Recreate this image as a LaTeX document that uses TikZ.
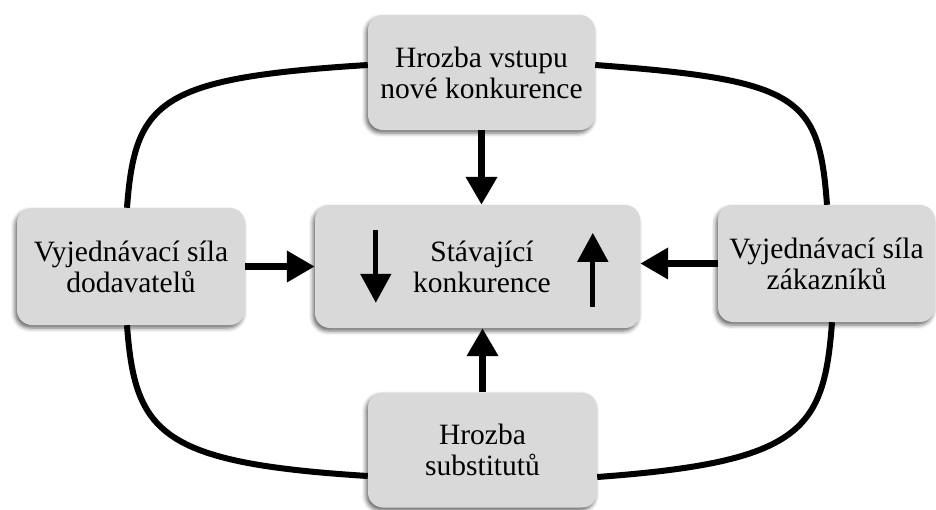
\documentclass[tikz,border=0pt]{standalone}
\usepackage{fontspec}
\setmainfont{Liberation Serif}
\usetikzlibrary{arrows.meta,calc,shadows.blur}

\definecolor{boxgray}{HTML}{D9D9D9}

\tikzset{
  force/.style={
    rectangle, rounded corners=15pt, fill=boxgray, draw=none,
    align=center, inner sep=0pt,
    font=\fontsize{29.5}{31}\selectfont,
    blur shadow={shadow xshift=-2pt, shadow yshift=-3pt,
                 shadow blur radius=4pt, shadow opacity=60}
  },
  push/.style={line width=7pt, -{Triangle[width=30pt,length=28pt]}},
  ring/.style={line width=6pt},
  inner arrow/.style={line width=5pt, -{Triangle[width=30pt,length=29pt]}}
}

\begin{document}
\begin{tikzpicture}[x=1pt, y=-1pt]
  \useasboundingbox (0,0) rectangle (936,509);

  % the five forces
  \node[force, minimum width=227pt, minimum height=115pt] (T) at (481.5,72.5)
    {Hrozba vstupu\\nové konkurence};
  \node[force, minimum width=325pt, minimum height=123pt] (C) at (477.5,266.5)
    {\hspace*{9pt}Stávající\\\hspace*{9pt}konkurence};
  \node[force, minimum width=228pt, minimum height=117pt] (L) at (131,266.5)
    {Vyjednávací síla\\dodavatelů};
  \node[force, minimum width=217pt, minimum height=117pt] (R) at (826.5,263.5)
    {Vyjednávací síla\\zákazníků};
  \node[force, minimum width=229pt, minimum height=115pt] (B) at (482.5,450)
    {Hrozba\\substitutů};

  % pressure on the existing competition
  \draw[push] (T.south) -- (T.south |- C.north);
  \draw[push] (B.north) -- (B.north |- C.south);
  \draw[push] (L.east) -- (L.east -| C.west);
  \draw[push] (R.west) -- (R.west -| C.east);

  % rising and falling arrows inside the central box
  \coordinate (dnA) at ($(C.north west)+(61,25)$);
  \coordinate (dnB) at ($(C.north west)+(61,98)$);
  \coordinate (upA) at ($(C.north west)+(278,102)$);
  \coordinate (upB) at ($(C.north west)+(278,28)$);
  \draw[inner arrow] (dnA) -- (dnB);
  \draw[inner arrow] (upA) -- (upB);

  % outer ring linking the four surrounding forces
  \draw[ring] ([xshift=-4pt]L.north)
    .. controls +(8,-108) and +(-208,13) .. ([yshift=7.5pt]T.west);
  \draw[ring] ([yshift=7.5pt]T.east)
    .. controls +(205,15) and +(-8,-108) .. ([xshift=0.5pt]R.north);
  \draw[ring] ([xshift=-4pt]L.south)
    .. controls +(8,108) and +(-208,-13) .. ([yshift=-26pt]B.west);
  \draw[ring] ([yshift=-27pt]B.east)
    .. controls +(205,-15) and +(-8,108) .. ([xshift=5.5pt]R.south);
\end{tikzpicture}
\end{document}
